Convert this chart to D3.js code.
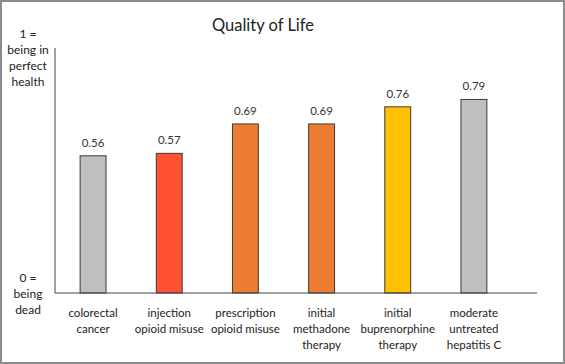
<!DOCTYPE html>
<html>
<head>
<meta charset="utf-8">
<script src="https://cdn.jsdelivr.net/npm/d3@7"></script>
<style>
  body { margin: 0; background: #fff; }
  svg { display: block; font-family: Lato, "Open Sans", sans-serif; }
</style>
</head>
<body>
<svg id="chart" width="565" height="364"></svg>
<script>
// chart data
const categories = [
    ["colorectal", "cancer"],
    ["injection", "opioid misuse"],
    ["prescription", "opioid misuse"],
    ["initial", "methadone", "therapy"],
    ["initial", "buprenorphine", "therapy"],
    ["moderate", "untreated", "hepatitis C"]
];
const values = [0.56, 0.57, 0.69, 0.69, 0.76, 0.79];
const barColors = ["#bfbfbf", "#ff5233", "#ed7d31", "#ed7d31", "#ffc000", "#bfbfbf"];
const topLabel = ["1 =", "being in", "perfect", "health"];
const bottomLabel = ["0 =", "being", "dead"];

const W = 565, H = 364;
const svg = d3.select("#chart");

// frame round the picture
svg.append("rect")
    .attr("x", 1).attr("y", 1)
    .attr("width", W - 2).attr("height", H - 2)
    .attr("fill", "none")
    .attr("stroke", "#8c8c8c")
    .attr("stroke-width", 2);

let x = d3.scaleBand()
    .domain(d3.range(categories.length))
    .range([55, 512])
    .paddingInner(0.66)
    .paddingOuter(0.33);
let y = d3.scaleLinear().domain([0, 1]).range([293, 48]);

// title
svg.append("text")
    .attr("x", 263).attr("y", 31)
    .attr("text-anchor", "middle")
    .attr("font-size", 16.5)
    .attr("fill", "#222")
    .text("Quality of Life");

// bars
svg.selectAll("rect.bar")
    .data(values)
    .enter()
    .append("rect")
    .attr("class", "bar")
    .attr("x", (d, i) => x(i))
    .attr("y", d => y(d))
    .attr("width", x.bandwidth())
    .attr("height", d => y(0) - y(d))
    .attr("fill", (d, i) => barColors[i])
    .attr("stroke", "#3a3a3a")
    .attr("stroke-width", 1);

// value labels
svg.selectAll("text.val")
    .data(values)
    .enter()
    .append("text")
    .attr("class", "val")
    .attr("x", (d, i) => x(i) + x.bandwidth() / 2)
    .attr("y", d => y(d) - 9)
    .attr("text-anchor", "middle")
    .attr("font-size", 11.5)
    .attr("fill", "#333")
    .text(d => d.toFixed(2));

// axes lines
svg.append("line")
    .attr("x1", 55).attr("x2", 55)
    .attr("y1", y(1)).attr("y2", y(0))
    .attr("stroke", "#444");
svg.append("line")
    .attr("x1", 55).attr("x2", 537)
    .attr("y1", y(0)).attr("y2", y(0))
    .attr("stroke", "#444");

// category labels
let cat = svg.selectAll("text.cat")
    .data(categories)
    .enter()
    .append("text")
    .attr("class", "cat")
    .attr("text-anchor", "middle")
    .attr("font-size", 11.5)
    .attr("fill", "#222");
cat.selectAll("tspan")
    .data((d, i) => d.map(t => ({ t: t, i: i })))
    .enter()
    .append("tspan")
    .attr("x", d => x(d.i) + x.bandwidth() / 2)
    .attr("y", (d, j) => 317 + j * 16)
    .text(d => d.t);

// y end labels
function endLabel(lines, top) {
    svg.append("text")
        .attr("text-anchor", "middle")
        .attr("font-size", 12)
        .attr("fill", "#222")
        .selectAll("tspan")
        .data(lines)
        .enter()
        .append("tspan")
        .attr("x", 28)
        .attr("y", (d, j) => top + j * 16)
        .text(d => d);
}
endLabel(topLabel, 38);
endLabel(bottomLabel, 282);
</script>
</body>
</html>
